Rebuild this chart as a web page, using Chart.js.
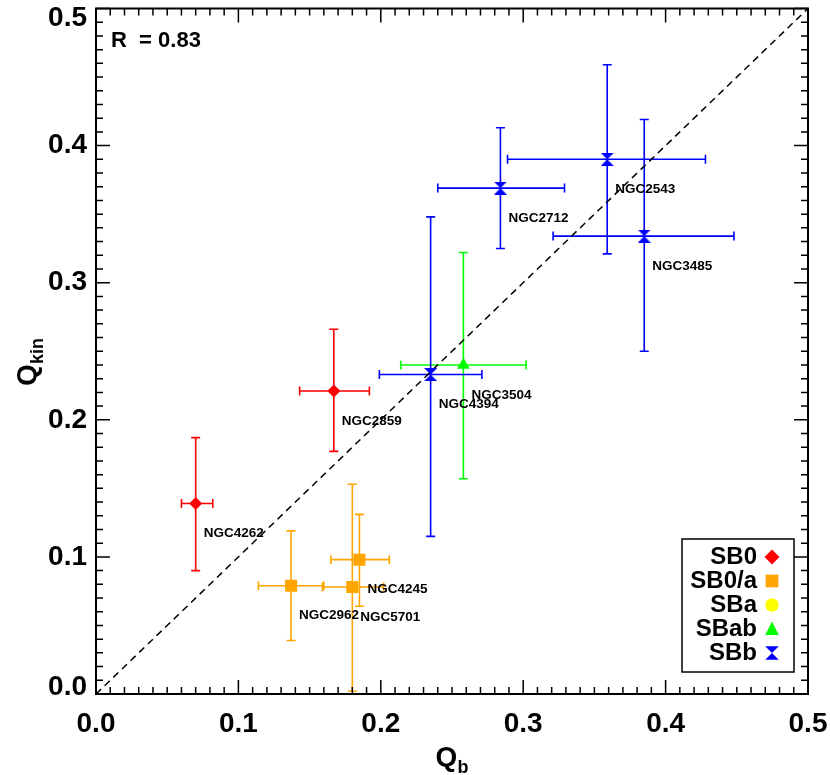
<!DOCTYPE html>
<html>
<head>
<meta charset="utf-8">
<script src="https://cdn.jsdelivr.net/npm/chart.js@4.4.0/dist/chart.umd.min.js"></script>
<style>
    html, body { margin: 0; padding: 0; background: #ffffff; }
    #chart { display: block; }
</style>
</head>
<body>
<canvas id="chart" width="830" height="775"></canvas>
<script>
/* ======================================
   DATA
====================================== */
const galaxies = ["NGC4262", "NGC2859", "NGC2962", "NGC4245", "NGC5701",
                  "NGC3504", "NGC4394", "NGC2712", "NGC2543", "NGC3485"];
const barTypes = ["SB0", "SB0", "SB0/a", "SB0/a", "SB0/a",
                  "SBab", "SBb", "SBb", "SBb", "SBb"];

const qb     = [0.070, 0.167, 0.137, 0.185, 0.180, 0.258, 0.235, 0.284, 0.359, 0.385];
const qbLo   = [0.060, 0.143, 0.114, 0.165, 0.159, 0.214, 0.199, 0.240, 0.289, 0.321];
const qbHi   = [0.082, 0.192, 0.160, 0.206, 0.202, 0.302, 0.271, 0.329, 0.428, 0.448];
const qkin   = [0.139, 0.221, 0.079, 0.098, 0.078, 0.240, 0.233, 0.369, 0.390, 0.334];
const qkinLo = [0.090, 0.177, 0.039, 0.064, 0.002, 0.157, 0.115, 0.325, 0.321, 0.250];
const qkinHi = [0.187, 0.266, 0.119, 0.131, 0.153, 0.322, 0.348, 0.413, 0.459, 0.419];

const typeNames  = ["SB0", "SB0/a", "SBa", "SBab", "SBb"];
const typeColors = ["#ff0000", "#ffa500", "#ffff00", "#00ff00", "#0000ff"];
const typeShapes = ["diamond", "square", "circle", "triangle", "hourglass"];

const axisTicks = [0.0, 0.1, 0.2, 0.3, 0.4, 0.5];
const oneToOne  = [0.0, 0.5];
const rLabel    = "R  = 0.83";

const FONT = '"Liberation Sans", Arial, Helvetica, sans-serif';


/* ======================================
   MARKER HELPERS
====================================== */
function makeHourglass(size, color) {
    const c = document.createElement("canvas");
    c.width = size;
    c.height = size;
    const g = c.getContext("2d");
    g.fillStyle = color;
    g.beginPath();
    g.moveTo(0, 0); g.lineTo(size, 0); g.lineTo(size / 2, size / 2);
    g.closePath();
    g.moveTo(0, size); g.lineTo(size, size); g.lineTo(size / 2, size / 2);
    g.closePath();
    g.fill();
    return c;
}

const pointStyles = {
    diamond:   { style: "rectRot",  radius: 6.5 },
    square:    { style: "rect",     radius: 8.5 },
    circle:    { style: "circle",   radius: 6.5 },
    triangle:  { style: "triangle", radius: 7.5 },
    hourglass: { style: makeHourglass(13, "#0000ff"), radius: 7 }
};

function drawShape(ctx, shape, cx, cy, s, color) {
    ctx.fillStyle = color;
    ctx.beginPath();
    if (shape === "diamond") {
        ctx.moveTo(cx, cy - s); ctx.lineTo(cx + s, cy); ctx.lineTo(cx, cy + s); ctx.lineTo(cx - s, cy);
    } else if (shape === "square") {
        ctx.rect(cx - s * 0.85, cy - s * 0.85, s * 1.7, s * 1.7);
    } else if (shape === "circle") {
        ctx.arc(cx, cy, s * 0.9, 0, Math.PI * 2);
    } else if (shape === "triangle") {
        ctx.moveTo(cx, cy - s); ctx.lineTo(cx + s * 0.9, cy + s * 0.8); ctx.lineTo(cx - s * 0.9, cy + s * 0.8);
    } else {
        const h = s * 0.9;
        ctx.moveTo(cx - h, cy - h); ctx.lineTo(cx + h, cy - h); ctx.lineTo(cx, cy);
        ctx.closePath();
        ctx.moveTo(cx - h, cy + h); ctx.lineTo(cx + h, cy + h); ctx.lineTo(cx, cy);
    }
    ctx.closePath();
    ctx.fill();
}


/* ======================================
   DATASETS
====================================== */
const datasets = typeNames.map((t, k) => {
    const shape = pointStyles[typeShapes[k]];
    const pts = [];
    barTypes.forEach((bt, i) => {
        if (bt === t) pts.push({ x: qb[i], y: qkin[i] });
    });
    return {
        label: t,
        data: pts,
        showLine: false,
        pointStyle: shape.style,
        pointRadius: shape.radius,
        pointHoverRadius: shape.radius,
        backgroundColor: typeColors[k],
        borderColor: typeColors[k],
        borderWidth: 0
    };
});

datasets.push({
    label: "1:1",
    data: oneToOne.map(v => ({ x: v, y: v })),
    showLine: true,
    pointRadius: 0,
    borderColor: "#000000",
    borderWidth: 1.5,
    borderDash: [7, 5],
    fill: false
});


/* ======================================
   PLUGINS
====================================== */
const errorBars = {
    id: "errorBars",
    beforeDatasetsDraw(chart) {
        const { ctx, scales: { x, y } } = chart;
        const cap = 4.5;
        ctx.save();
        ctx.lineWidth = 1.6;
        galaxies.forEach((name, i) => {
            const px = x.getPixelForValue(qb[i]);
            const py = y.getPixelForValue(qkin[i]);
            const x0 = x.getPixelForValue(qbLo[i]);
            const x1 = x.getPixelForValue(qbHi[i]);
            const y0 = y.getPixelForValue(qkinLo[i]);
            const y1 = y.getPixelForValue(qkinHi[i]);
            ctx.strokeStyle = typeColors[typeNames.indexOf(barTypes[i])];
            ctx.beginPath();
            ctx.moveTo(x0, py); ctx.lineTo(x1, py);
            ctx.moveTo(x0, py - cap); ctx.lineTo(x0, py + cap);
            ctx.moveTo(x1, py - cap); ctx.lineTo(x1, py + cap);
            ctx.moveTo(px, y0); ctx.lineTo(px, y1);
            ctx.moveTo(px - cap, y0); ctx.lineTo(px + cap, y0);
            ctx.moveTo(px - cap, y1); ctx.lineTo(px + cap, y1);
            ctx.stroke();
        });
        ctx.restore();
    }
};

const nameLabels = {
    id: "nameLabels",
    afterDatasetsDraw(chart) {
        const { ctx, scales: { x, y } } = chart;
        ctx.save();
        ctx.fillStyle = "#000000";
        ctx.font = "bold 13.5px " + FONT;
        ctx.textAlign = "left";
        ctx.textBaseline = "middle";
        galaxies.forEach((name, i) => {
            ctx.fillText(name, x.getPixelForValue(qb[i]) + 8, y.getPixelForValue(qkin[i]) + 30);
        });
        ctx.restore();
    }
};

const frame = {
    id: "frame",
    afterDraw(chart) {
        const { ctx, chartArea: a, scales: { x, y } } = chart;
        ctx.save();

        // box
        ctx.strokeStyle = "#000000";
        ctx.lineWidth = 2;
        ctx.strokeRect(a.left, a.top, a.right - a.left, a.bottom - a.top);

        // inward ticks on all four sides
        ctx.lineWidth = 1.5;
        ctx.beginPath();
        for (let k = 0; k <= 50; k++) {
            const v = k / 100;
            const len = (k % 10 === 0) ? 14 : 7;
            const xp = x.getPixelForValue(v);
            const yp = y.getPixelForValue(v);
            ctx.moveTo(xp, a.bottom); ctx.lineTo(xp, a.bottom - len);
            ctx.moveTo(xp, a.top);    ctx.lineTo(xp, a.top + len);
            ctx.moveTo(a.left, yp);   ctx.lineTo(a.left + len, yp);
            ctx.moveTo(a.right, yp);  ctx.lineTo(a.right - len, yp);
        }
        ctx.stroke();

        // y tick labels
        ctx.fillStyle = "#000000";
        ctx.font = "bold 28px " + FONT;
        ctx.textAlign = "right";
        ctx.textBaseline = "middle";
        axisTicks.forEach(t => {
            const yp = Math.min(Math.max(y.getPixelForValue(t), a.top + 10), a.bottom - 7);
            ctx.fillText(t.toFixed(1), a.left - 9, yp);
        });

        // x title: Q_b
        ctx.textAlign = "left";
        ctx.textBaseline = "alphabetic";
        ctx.font = "bold 28px " + FONT;
        const qW = ctx.measureText("Q").width;
        ctx.font = "bold 18px " + FONT;
        const bW = ctx.measureText("b").width;
        const xs = (a.left + a.right) / 2 - (qW + bW) / 2;
        ctx.font = "bold 28px " + FONT;
        ctx.fillText("Q", xs, 766);
        ctx.font = "bold 18px " + FONT;
        ctx.fillText("b", xs + qW, 773);

        // y title: Q_kin
        ctx.save();
        ctx.translate(36, 362);
        ctx.rotate(-Math.PI / 2);
        ctx.font = "bold 28px " + FONT;
        const qW2 = ctx.measureText("Q").width;
        ctx.font = "bold 18px " + FONT;
        const kW = ctx.measureText("kin").width;
        const ys = -(qW2 + kW) / 2;
        ctx.font = "bold 28px " + FONT;
        ctx.fillText("Q", ys, 0);
        ctx.font = "bold 18px " + FONT;
        ctx.fillText("kin", ys + qW2, 7);
        ctx.restore();

        // R value
        ctx.font = "bold 22px " + FONT;
        ctx.fillText(rLabel, 111, 47);

        // legend
        const lx = 682, ly = 539, lw = 112, lh = 133;
        ctx.fillStyle = "#ffffff";
        ctx.fillRect(lx, ly, lw, lh);
        ctx.strokeStyle = "#000000";
        ctx.lineWidth = 1.5;
        ctx.strokeRect(lx, ly, lw, lh);
        ctx.font = "bold 24px " + FONT;
        ctx.textAlign = "right";
        ctx.textBaseline = "middle";
        typeNames.forEach((t, k) => {
            const rowY = 557 + k * 24;
            ctx.fillStyle = "#000000";
            ctx.fillText(t, 757, rowY);
            drawShape(ctx, typeShapes[k], 772, rowY, 7.5, typeColors[k]);
        });

        ctx.restore();
    }
};


/* ======================================
   CHART
====================================== */
const ctx = document.getElementById("chart").getContext("2d");

new Chart(ctx, {
    type: "scatter",
    data: { datasets },
    options: {
        responsive: false,
        animation: false,
        events: [],
        layout: { padding: { left: 0, top: 5, right: 22, bottom: 0 } },
        plugins: {
            legend: { display: false },
            tooltip: { enabled: false }
        },
        scales: {
            x: {
                type: "linear",
                min: 0,
                max: 0.5,
                afterFit(scale) {
                    scale.height = 81;
                    scale.paddingLeft = 0;
                    scale.paddingRight = 0;
                },
                afterBuildTicks(scale) {
                    scale.ticks = axisTicks.map(v => ({ value: v }));
                },
                grid: { display: false, drawTicks: false },
                border: { display: false },
                ticks: {
                    padding: 13,
                    color: "#000000",
                    maxRotation: 0,
                    autoSkip: false,
                    font: { family: FONT, size: 28, weight: "bold" },
                    callback: v => Number(v).toFixed(1)
                }
            },
            y: {
                type: "linear",
                min: 0,
                max: 0.5,
                afterFit(scale) {
                    scale.width = 96;
                    scale.paddingTop = 0;
                    scale.paddingBottom = 0;
                },
                grid: { display: false, drawTicks: false },
                border: { display: false },
                ticks: { display: false }
            }
        }
    },
    plugins: [errorBars, nameLabels, frame]
});
</script>
</body>
</html>
